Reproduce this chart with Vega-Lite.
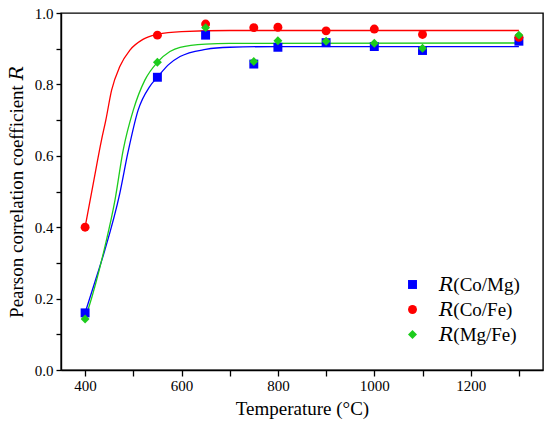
{
  "$schema": "https://vega.github.io/schema/vega-lite/v6.json",
  "autosize": "none",
  "width": 482,
  "height": 357,
  "padding": {"left": 61, "top": 13, "right": 7, "bottom": 57},
  "background": "white",
  "config": {
    "font": "Liberation Serif, DejaVu Serif",
    "view": {"stroke": "#000", "strokeWidth": 1.4},
    "axis": {
      "domainColor": "#000",
      "domainWidth": 1.4,
      "ticks": true,
      "tickColor": "#000",
      "tickWidth": 1.3,
      "grid": false,
      "zindex": 1,
      "labelFont": "Liberation Serif, DejaVu Serif",
      "labelFontSize": 15,
      "labelColor": "#000",
      "titleFont": "Liberation Serif, DejaVu Serif",
      "titleFontSize": 19,
      "titleFontWeight": "normal",
      "titleColor": "#000"
    }
  },
  "datasets": {
    "fit": [
      {"T": 400, "R": 0.16, "s": "𝑅(Co/Mg)"},
      {"T": 420, "R": 0.245, "s": "𝑅(Co/Mg)"},
      {"T": 441, "R": 0.336, "s": "𝑅(Co/Mg)"},
      {"T": 472, "R": 0.495, "s": "𝑅(Co/Mg)"},
      {"T": 489, "R": 0.61, "s": "𝑅(Co/Mg)"},
      {"T": 510, "R": 0.728, "s": "𝑅(Co/Mg)"},
      {"T": 534, "R": 0.794, "s": "𝑅(Co/Mg)"},
      {"T": 550, "R": 0.82, "s": "𝑅(Co/Mg)"},
      {"T": 572, "R": 0.854, "s": "𝑅(Co/Mg)"},
      {"T": 597, "R": 0.878, "s": "𝑅(Co/Mg)"},
      {"T": 650, "R": 0.898, "s": "𝑅(Co/Mg)"},
      {"T": 700, "R": 0.904, "s": "𝑅(Co/Mg)"},
      {"T": 800, "R": 0.906, "s": "𝑅(Co/Mg)"},
      {"T": 1300, "R": 0.906, "s": "𝑅(Co/Mg)"},
      {"T": 400, "R": 0.4, "s": "𝑅(Co/Fe)"},
      {"T": 417, "R": 0.523, "s": "𝑅(Co/Fe)"},
      {"T": 434, "R": 0.644, "s": "𝑅(Co/Fe)"},
      {"T": 443, "R": 0.7, "s": "𝑅(Co/Fe)"},
      {"T": 455, "R": 0.784, "s": "𝑅(Co/Fe)"},
      {"T": 472, "R": 0.85, "s": "𝑅(Co/Fe)"},
      {"T": 493, "R": 0.896, "s": "𝑅(Co/Fe)"},
      {"T": 520, "R": 0.926, "s": "𝑅(Co/Fe)"},
      {"T": 550, "R": 0.94, "s": "𝑅(Co/Fe)"},
      {"T": 600, "R": 0.948, "s": "𝑅(Co/Fe)"},
      {"T": 700, "R": 0.951, "s": "𝑅(Co/Fe)"},
      {"T": 1300, "R": 0.951, "s": "𝑅(Co/Fe)"},
      {"T": 400, "R": 0.143, "s": "𝑅(Mg/Fe)"},
      {"T": 406, "R": 0.168, "s": "𝑅(Mg/Fe)"},
      {"T": 441, "R": 0.345, "s": "𝑅(Mg/Fe)"},
      {"T": 462, "R": 0.476, "s": "𝑅(Mg/Fe)"},
      {"T": 479, "R": 0.616, "s": "𝑅(Mg/Fe)"},
      {"T": 500, "R": 0.728, "s": "𝑅(Mg/Fe)"},
      {"T": 524, "R": 0.812, "s": "𝑅(Mg/Fe)"},
      {"T": 550, "R": 0.862, "s": "𝑅(Mg/Fe)"},
      {"T": 576, "R": 0.892, "s": "𝑅(Mg/Fe)"},
      {"T": 597, "R": 0.904, "s": "𝑅(Mg/Fe)"},
      {"T": 650, "R": 0.913, "s": "𝑅(Mg/Fe)"},
      {"T": 700, "R": 0.915, "s": "𝑅(Mg/Fe)"},
      {"T": 1300, "R": 0.916, "s": "𝑅(Mg/Fe)"}
    ],
    "obs": [
      {"T": 400, "R": 0.16, "s": "𝑅(Co/Mg)"},
      {"T": 550, "R": 0.82, "s": "𝑅(Co/Mg)"},
      {"T": 650, "R": 0.938, "s": "𝑅(Co/Mg)"},
      {"T": 750, "R": 0.857, "s": "𝑅(Co/Mg)"},
      {"T": 800, "R": 0.904, "s": "𝑅(Co/Mg)"},
      {"T": 900, "R": 0.917, "s": "𝑅(Co/Mg)"},
      {"T": 1000, "R": 0.906, "s": "𝑅(Co/Mg)"},
      {"T": 1100, "R": 0.895, "s": "𝑅(Co/Mg)"},
      {"T": 1300, "R": 0.921, "s": "𝑅(Co/Mg)"},
      {"T": 400, "R": 0.4, "s": "𝑅(Co/Fe)"},
      {"T": 550, "R": 0.938, "s": "𝑅(Co/Fe)"},
      {"T": 650, "R": 0.969, "s": "𝑅(Co/Fe)"},
      {"T": 750, "R": 0.959, "s": "𝑅(Co/Fe)"},
      {"T": 800, "R": 0.96, "s": "𝑅(Co/Fe)"},
      {"T": 900, "R": 0.95, "s": "𝑅(Co/Fe)"},
      {"T": 1000, "R": 0.955, "s": "𝑅(Co/Fe)"},
      {"T": 1100, "R": 0.94, "s": "𝑅(Co/Fe)"},
      {"T": 1300, "R": 0.932, "s": "𝑅(Co/Fe)"},
      {"T": 400, "R": 0.143, "s": "𝑅(Mg/Fe)"},
      {"T": 550, "R": 0.862, "s": "𝑅(Mg/Fe)"},
      {"T": 650, "R": 0.959, "s": "𝑅(Mg/Fe)"},
      {"T": 750, "R": 0.864, "s": "𝑅(Mg/Fe)"},
      {"T": 800, "R": 0.922, "s": "𝑅(Mg/Fe)"},
      {"T": 900, "R": 0.921, "s": "𝑅(Mg/Fe)"},
      {"T": 1000, "R": 0.915, "s": "𝑅(Mg/Fe)"},
      {"T": 1100, "R": 0.901, "s": "𝑅(Mg/Fe)"},
      {"T": 1300, "R": 0.938, "s": "𝑅(Mg/Fe)"}
    ]
  },
  "encoding": {
    "x": {
      "field": "T",
      "type": "quantitative",
      "title": "Temperature (°C)",
      "scale": {"domain": [350, 1350], "nice": false, "zero": false},
      "axis": {
        "values": [400, 500, 600, 700, 800, 900, 1000, 1100, 1200, 1300],
        "format": "d",
        "labelExpr": "datum.value % 200 == 0 ? datum.label : ''",
        "tickSize": 6,
        "tickOffset": 0,
        "labelPadding": 2,
        "titlePadding": 6,
        "labelFlush": false
      }
    },
    "y": {
      "field": "R",
      "type": "quantitative",
      "title": "Pearson correlation coefficient 𝑅",
      "scale": {"domain": [0, 1], "nice": false},
      "axis": {
        "values": [0, 0.1, 0.2, 0.3, 0.4, 0.5, 0.6, 0.7, 0.8, 0.9, 1],
        "labelExpr": "round(datum.value * 10) % 2 == 0 ? format(datum.value, '.1f') : ''",
        "tickSize": 5,
        "labelPadding": 3,
        "titlePadding": 8,
        "labelFlush": false
      }
    }
  },
  "layer": [
    {
      "data": {"name": "fit"},
      "mark": {"type": "line", "interpolate": "monotone", "strokeWidth": 1.3},
      "encoding": {
        "detail": {"field": "s", "type": "nominal"},
        "stroke": {
          "condition": [
            {"test": "datum.s == '𝑅(Co/Fe)'", "value": "#ff0000"},
            {"test": "datum.s == '𝑅(Mg/Fe)'", "value": "#1ccc1c"}
          ],
          "value": "#0000ff"
        }
      }
    },
    {
      "data": {"name": "obs"},
      "mark": {"type": "point", "filled": true, "opacity": 1, "size": 80},
      "encoding": {
        "color": {
          "field": "s",
          "type": "nominal",
          "scale": {"domain": ["𝑅(Co/Mg)", "𝑅(Co/Fe)", "𝑅(Mg/Fe)"], "range": ["#0000ff", "#ff0000", "#1ccc1c"]},
          "legend": {
            "title": null,
            "orient": "none",
            "legendX": 342,
            "legendY": 262,
            "labelFont": "Liberation Serif, DejaVu Serif",
            "labelFontSize": 19,
            "labelColor": "#000",
            "labelOffset": 17,
            "rowPadding": 5,
            "symbolSize": 80,
            "symbolOpacity": 1
          }
        },
        "shape": {
          "field": "s",
          "type": "nominal",
          "scale": {"domain": ["𝑅(Co/Mg)", "𝑅(Co/Fe)", "𝑅(Mg/Fe)"], "range": ["square", "circle", "diamond"]}
        }
      }
    }
  ]
}
